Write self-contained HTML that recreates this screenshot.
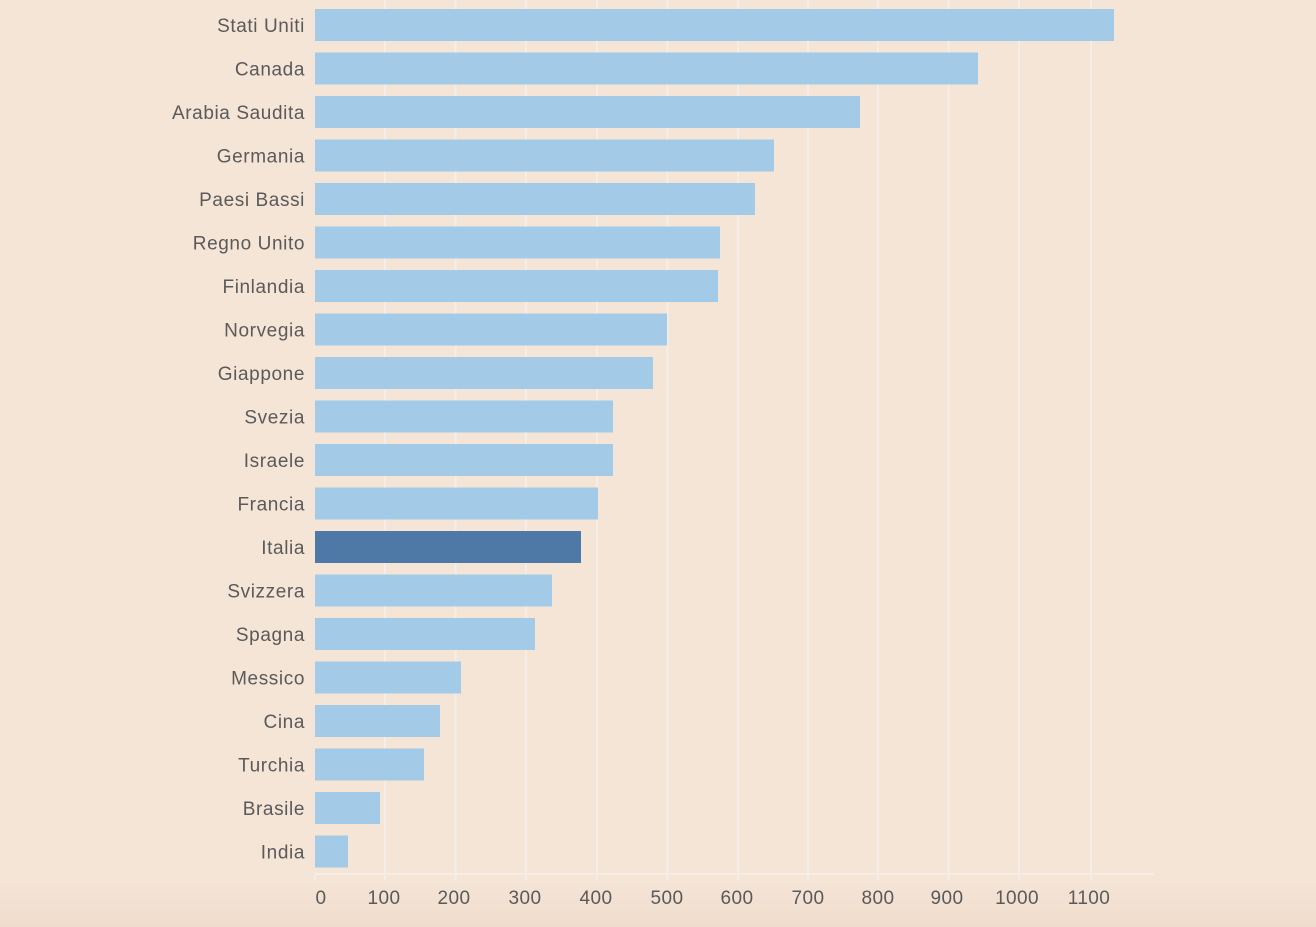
<!DOCTYPE html>
<html><head><meta charset="utf-8"><style>
html,body{margin:0;padding:0;overflow:hidden;}
body{width:1316px;height:927px;background:linear-gradient(#f5e5d7 0,#f5e5d7 880px,#efdccc 927px);font-family:"Liberation Sans",sans-serif;}
svg{display:block;}
</style></head><body>
<svg width="1316" height="927" xmlns="http://www.w3.org/2000/svg" font-family="Liberation Sans, sans-serif">
<g stroke="#f5eee8" stroke-width="2">
<line x1="385" y1="0" x2="385" y2="880"/><line x1="455.5" y1="0" x2="455.5" y2="880"/>
<line x1="526" y1="0" x2="526" y2="880"/><line x1="597" y1="0" x2="597" y2="880"/>
<line x1="667.5" y1="0" x2="667.5" y2="880"/><line x1="738" y1="0" x2="738" y2="880"/>
<line x1="808" y1="0" x2="808" y2="880"/><line x1="878" y1="0" x2="878" y2="880"/>
<line x1="948.5" y1="0" x2="948.5" y2="880"/><line x1="1019" y1="0" x2="1019" y2="880"/>
<line x1="1091" y1="0" x2="1091" y2="880"/>
<line x1="315" y1="874" x2="1154" y2="874"/><line x1="315" y1="874" x2="315" y2="880"/>
</g>
<g fill="#a3cbe7">
<rect x="315" y="9" width="799" height="32"/>
<rect x="315" y="52.5" width="663" height="32"/>
<rect x="315" y="96" width="545" height="32"/>
<rect x="315" y="139.5" width="459" height="32"/>
<rect x="315" y="183" width="440" height="32"/>
<rect x="315" y="226.5" width="405" height="32"/>
<rect x="315" y="270" width="403" height="32"/>
<rect x="315" y="313.5" width="352" height="32"/>
<rect x="315" y="357" width="338" height="32"/>
<rect x="315" y="400.5" width="298" height="32"/>
<rect x="315" y="444" width="298" height="32"/>
<rect x="315" y="487.5" width="283" height="32"/>
<rect x="315" y="531" width="266" height="32" fill="#4e79a7"/>
<rect x="315" y="574.5" width="237" height="32"/>
<rect x="315" y="618" width="220" height="32"/>
<rect x="315" y="661.5" width="146" height="32"/>
<rect x="315" y="705" width="125" height="32"/>
<rect x="315" y="748.5" width="109" height="32"/>
<rect x="315" y="792" width="65" height="32"/>
<rect x="315" y="835.5" width="33" height="32"/>
</g>
<g fill="#5a5a5a" font-size="19" text-anchor="end" letter-spacing="0.6">
<text x="305" y="32">Stati Uniti</text><text x="305" y="75.5">Canada</text>
<text x="305" y="119">Arabia Saudita</text><text x="305" y="162.5">Germania</text>
<text x="305" y="206">Paesi Bassi</text><text x="305" y="249.5">Regno Unito</text>
<text x="305" y="293">Finlandia</text><text x="305" y="336.5">Norvegia</text>
<text x="305" y="380">Giappone</text><text x="305" y="423.5">Svezia</text>
<text x="305" y="467">Israele</text><text x="305" y="510.5">Francia</text>
<text x="305" y="554">Italia</text><text x="305" y="597.5">Svizzera</text>
<text x="305" y="641">Spagna</text><text x="305" y="684.5">Messico</text>
<text x="305" y="728">Cina</text><text x="305" y="771.5">Turchia</text>
<text x="305" y="815">Brasile</text><text x="305" y="858.5">India</text>
</g>
<g fill="#5a5a5a" font-size="19" text-anchor="middle" letter-spacing="0.4">
<text x="321" y="904">0</text><text x="384" y="904">100</text><text x="454" y="904">200</text>
<text x="525" y="904">300</text><text x="596" y="904">400</text><text x="667" y="904">500</text>
<text x="737" y="904">600</text><text x="808" y="904">700</text><text x="878" y="904">800</text>
<text x="947" y="904">900</text><text x="1017" y="904">1000</text><text x="1089" y="904">1100</text>
</g>
</svg>
</body></html>
